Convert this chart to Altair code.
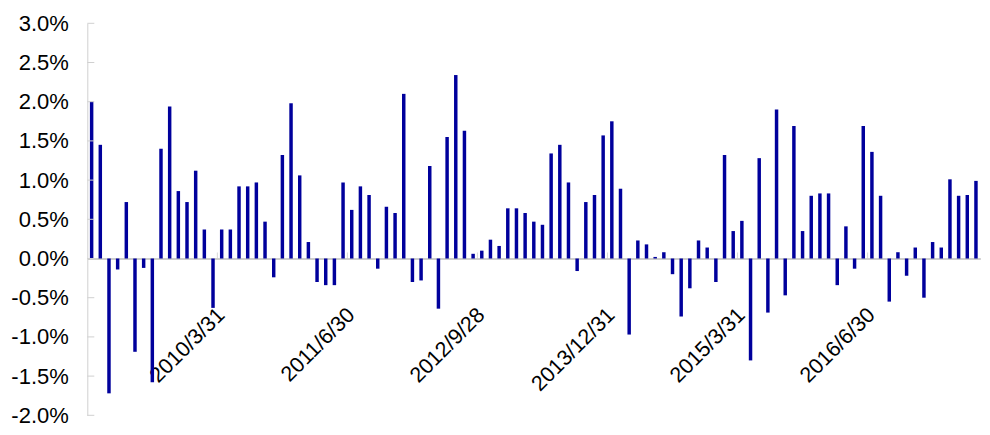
import altair as alt
import pandas as pd

# monthly returns (%), one bar per month-end from 2008/12 to 2017/6
values = [
    2.00, 1.45, -1.72, -0.14, 0.72, -1.19, -0.12, -1.58, 1.40, 1.94,
    0.86, 0.72, 1.12, 0.37, -0.63, 0.37, 0.37, 0.92, 0.92, 0.97,
    0.47, -0.24, 1.32, 1.98, 1.06, 0.21, -0.30, -0.34, -0.34, 0.97,
    0.62, 0.92, 0.81, -0.13, 0.66, 0.58, 2.10, -0.30, -0.28, 1.18,
    -0.64, 1.55, 2.34, 1.63, 0.06, 0.10, 0.24, 0.16, 0.64, 0.64,
    0.58, 0.47, 0.43, 1.34, 1.45, 0.97, -0.16, 0.72, 0.81, 1.57,
    1.75, 0.89, -0.97, 0.23, 0.18, 0.02, 0.08, -0.20, -0.74, -0.38,
    0.23, 0.14, -0.30, 1.32, 0.35, 0.48, -1.30, 1.28, -0.69, 1.90,
    -0.47, 1.69, 0.35, 0.80, 0.83, 0.83, -0.34, 0.41, -0.13, 1.69,
    1.36, 0.80, -0.55, 0.08, -0.22, 0.14, -0.50, 0.21, 0.14, 1.01,
    0.80, 0.81, 0.99,
]

try:
    _idx = pd.date_range("2008-12-01", periods=len(values), freq="BME")
except Exception:
    _idx = pd.date_range("2008-12-01", periods=len(values), freq="BM")
dates = [f"{d.year}/{d.month}/{d.day}" for d in _idx]

label_dates = ["2010/3/31", "2011/6/30", "2012/9/28", "2013/12/31", "2015/3/31", "2016/6/30"]
y_ticks = [-2.0, -1.5, -1.0, -0.5, 0.0, 0.5, 1.0, 1.5, 2.0, 2.5, 3.0]

df = pd.DataFrame({"date": dates, "value": values})
df_lab = df[df["date"].isin(label_dates)]
df_yt = pd.DataFrame({"v": y_ticks})

FONT = "Liberation Sans"
W, H = 893, 392
x_scale = alt.Scale(domain=dates, paddingInner=0, paddingOuter=0)
y_scale = alt.Scale(domain=[-2.0, 3.0], nice=False, zero=False)

bars = alt.Chart(df).mark_bar(
    width=alt.RelativeBandSize(0.4), color="#00009c"
).encode(
    x=alt.X(
        "date:O",
        scale=x_scale,
        axis=alt.Axis(
            values=label_dates,
            title=None,
            labelAngle=-45,
            labelAlign="right",
            labelBaseline="middle",
            labelPadding=53,
            labelFont=FONT,
            labelFontSize=21.5,
            labelColor="#000000",
            ticks=False,
            domainColor="#bdbdbd",
            domainWidth=1.5,
            offset=-(H * 2 / 5),
            bandPosition=0.5,
            labelOverlap=False,
        ),
    ),
    y=alt.Y(
        "value:Q",
        scale=y_scale,
        axis=alt.Axis(
            values=y_ticks,
            title=None,
            grid=False,
            ticks=False,
            labelPadding=19,
            labelFont=FONT,
            labelFontSize=22,
            labelColor="#000000",
            labelExpr="replace(format(datum.value, '.1f'), '\u2212', '-') + '%'",
            domainColor="#d0d0d0",
            domainWidth=1,
        ),
    ),
)

y_tick_marks = alt.Chart(df_yt).mark_rule(color="#d0d0d0", strokeWidth=1).encode(
    x=alt.value(0),
    x2=alt.value(7),
    y=alt.Y("v:Q", scale=y_scale, axis=None),
)

x_tick_marks = alt.Chart(df_lab).mark_tick(
    orient="vertical", size=6, thickness=1, color="#c8c8c8", yOffset=-3
).encode(
    x=alt.X("date:O", scale=x_scale, bandPosition=0, axis=None),
    y=alt.Y(datum=0, scale=y_scale, axis=None),
)

chart = alt.layer(bars, y_tick_marks, x_tick_marks).resolve_axis(
    x="independent", y="independent"
).properties(
    width=W,
    height=H,
    background="white",
    autosize=alt.AutoSizeParams(type="none"),
    padding={"left": 79.3, "top": 15.3, "right": 1, "bottom": 12},
).configure_view(stroke=None)

chart.save("out.html", embed_options={"renderer": "svg", "actions": False})
